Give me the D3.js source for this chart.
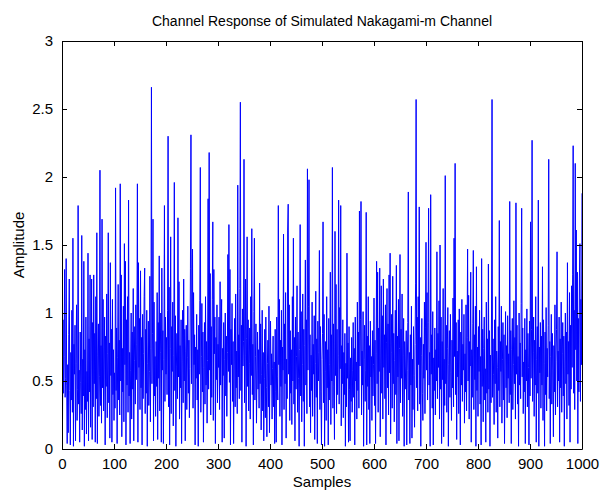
<!DOCTYPE html>
<html>
<head>
<meta charset="utf-8">
<script src="https://cdn.jsdelivr.net/npm/d3@7"></script>
<style>
  html, body { margin: 0; padding: 0; background: #fff; }
  svg { display: block; font-family: "Liberation Sans", Arial, sans-serif; }
</style>
</head>
<body>
<svg id="chart" width="602" height="491"></svg>
<script>
// Simulated Nakagami-m channel amplitude, one value per sample (1..1000)
const amplitude = [
0.22,0.95,0.41,0.68,1.32,0.38,0.52,1.40,0.47,0.04,0.62,0.12,0.84,1.25,0.43,0.03,0.71,0.36,1.02,0.27,
1.55,0.02,0.77,0.55,0.91,0.06,0.63,1.06,0.21,0.44,1.79,0.33,0.58,0.05,0.86,0.49,0.26,1.57,0.14,0.66,
0.39,1.38,0.02,0.73,0.29,0.97,0.11,0.57,0.35,1.44,0.06,0.81,0.42,1.28,0.16,0.64,1.25,0.07,0.93,0.31,
1.28,0.48,0.85,0.05,1.12,0.37,1.59,0.04,0.69,0.92,0.24,0.53,2.05,0.32,0.76,0.19,1.69,0.45,1.10,0.28,
0.61,0.97,0.03,0.83,0.46,1.14,0.23,0.70,1.59,0.34,0.78,0.08,1.37,0.54,0.88,0.05,1.10,0.40,0.73,0.21,
0.56,0.30,1.92,0.43,0.89,0.04,0.67,1.21,0.36,0.80,0.25,1.95,0.50,1.28,0.09,0.74,0.42,1.05,0.20,1.51,
0.62,1.38,0.03,0.95,0.47,1.12,0.27,1.83,0.39,0.71,0.04,0.58,1.00,0.22,0.86,0.44,1.18,0.06,0.65,0.90,
0.33,1.06,0.51,0.77,1.95,0.05,1.37,0.60,0.96,0.29,1.31,0.45,0.82,0.03,0.99,0.37,0.70,1.12,1.33,0.26,
0.88,0.41,1.02,0.02,0.63,0.94,0.32,0.57,1.27,0.20,0.74,2.66,0.48,0.85,1.69,0.06,1.08,0.39,0.68,0.24,
0.79,0.46,1.15,0.07,0.93,0.52,1.42,0.28,0.71,1.00,0.05,1.33,0.58,0.87,0.04,0.66,1.79,0.35,0.97,0.55,
0.82,0.40,1.02,2.30,0.31,1.19,0.03,0.74,1.56,0.26,0.90,0.57,1.08,0.17,0.69,1.96,0.43,0.98,0.02,0.61,
0.85,0.37,1.70,0.53,1.23,0.22,0.76,0.45,0.95,0.04,0.64,1.02,0.34,1.25,0.50,0.88,0.06,0.72,0.91,0.29,
0.67,1.05,0.41,0.80,0.23,0.59,1.33,2.31,0.48,0.96,1.47,0.30,1.15,0.62,0.84,0.03,0.75,0.52,0.99,0.36,
0.73,0.02,0.91,0.55,1.09,2.07,0.27,0.68,1.07,0.42,0.86,0.05,0.60,0.93,0.33,1.12,0.47,0.79,0.19,0.65,
1.84,0.44,2.18,0.58,1.29,0.25,0.90,0.38,1.10,1.67,0.21,1.32,0.70,0.97,0.04,0.82,0.51,1.06,0.34,0.77,
0.60,0.97,0.29,1.23,0.47,0.86,1.10,0.05,0.74,0.54,0.93,0.08,0.66,1.00,0.39,0.83,0.24,0.71,1.43,0.57,
1.65,0.49,1.32,0.03,0.88,0.62,1.07,0.35,0.79,0.04,0.58,0.96,0.31,1.14,0.45,0.72,0.26,1.94,0.53,0.84,
0.37,1.18,2.55,0.43,0.91,0.05,1.03,0.61,0.79,2.13,0.34,0.69,1.25,0.02,0.81,1.56,0.46,0.95,0.28,0.63,
0.89,0.22,1.12,0.54,1.62,0.40,0.77,0.03,1.01,1.55,0.36,0.68,0.92,0.19,0.58,0.86,0.44,0.73,0.30,1.22,
0.48,0.92,0.14,0.55,1.02,0.28,0.71,0.06,0.52,0.88,0.23,0.97,0.45,0.09,0.63,0.80,0.31,1.05,0.12,0.66,
0.94,0.47,0.70,0.22,0.59,0.83,0.31,0.64,0.04,0.88,0.42,0.05,0.97,0.53,0.36,1.79,0.62,1.10,0.24,0.80,
0.46,1.02,0.03,0.75,0.58,1.58,0.29,0.92,0.48,1.15,0.08,0.66,0.37,1.61,1.80,0.55,1.06,0.21,0.87,0.41,
0.73,0.18,1.12,0.50,1.55,0.33,0.82,0.06,0.97,0.44,0.68,1.20,0.27,0.86,0.52,0.02,0.73,1.65,0.39,1.01,
0.20,0.62,1.14,0.35,0.88,0.02,0.76,1.39,0.47,0.95,0.26,2.06,0.58,1.05,1.98,0.31,0.84,0.12,0.69,0.43,
1.08,0.24,0.77,0.55,0.98,0.07,0.63,1.16,0.38,0.81,0.04,0.94,0.50,0.71,1.46,0.29,0.90,0.42,0.03,0.66,
0.85,1.67,0.34,0.99,0.02,0.57,0.79,0.21,1.12,0.45,0.73,0.03,0.96,0.36,0.62,1.30,0.18,0.84,0.50,2.07,
0.30,0.92,0.46,0.07,1.60,0.54,1.21,0.26,0.88,0.40,0.69,1.83,0.33,1.04,0.59,1.79,0.17,0.76,0.48,0.95,
0.23,0.71,0.40,0.85,0.02,0.63,0.31,1.44,0.52,0.78,0.05,0.90,0.44,0.06,0.67,0.35,0.82,0.27,0.58,0.93,
0.38,0.74,0.03,0.97,0.50,0.64,0.22,1.08,0.43,0.86,0.30,1.75,0.61,0.95,1.82,0.25,0.72,0.47,1.01,0.02,
0.66,0.91,0.35,0.58,1.74,0.03,0.83,0.46,1.12,0.29,0.76,0.04,0.94,0.53,0.68,0.21,0.87,0.39,0.62,1.11,
0.32,0.80,0.04,0.70,1.38,0.48,1.30,0.27,0.89,0.57,1.33,0.09,0.75,1.20,0.41,0.98,0.22,1.25,0.60,0.84,
0.37,1.06,0.03,0.78,1.18,0.45,0.92,0.25,1.28,0.56,1.44,0.11,0.71,0.99,0.30,1.27,0.48,0.85,0.20,0.65,
1.02,0.40,1.35,0.04,0.83,0.53,1.10,0.06,0.74,1.43,0.34,0.88,0.52,1.14,0.24,0.69,0.96,0.02,0.79,0.44,
0.61,0.87,0.03,0.58,0.93,1.89,0.36,0.71,0.04,0.84,0.47,1.05,0.08,0.66,0.29,0.90,0.54,0.16,0.77,1.22,
2.57,0.45,0.97,0.28,1.12,0.62,1.78,0.33,0.82,0.02,0.69,0.96,0.41,0.21,0.77,0.52,1.08,0.26,0.89,1.52,
0.58,1.15,0.36,0.93,1.77,0.47,0.71,0.02,1.87,0.55,0.84,0.30,1.01,0.03,0.67,0.43,0.89,0.25,0.73,0.50,
1.45,0.37,0.85,0.60,1.09,0.22,1.50,0.44,0.97,0.04,0.79,0.51,1.18,0.09,0.66,0.32,2.01,0.48,0.91,0.27,
0.74,1.04,0.02,0.62,0.87,0.38,0.99,0.56,0.21,0.80,0.45,1.11,0.31,1.55,0.68,2.10,0.40,0.93,0.07,0.72,
0.53,0.95,0.26,1.03,0.64,0.03,0.86,0.47,1.10,0.35,0.77,0.58,0.99,0.19,0.70,0.42,1.06,0.28,0.82,1.47,
0.50,1.13,0.22,0.79,0.61,1.30,0.05,0.73,0.38,0.92,1.46,0.29,0.84,0.51,1.05,0.02,1.34,0.43,0.75,0.24,
0.90,0.57,1.02,0.33,0.68,0.03,1.40,0.46,0.88,0.20,0.74,0.97,0.36,0.59,0.05,1.08,0.41,0.81,0.27,1.36,
0.44,0.87,0.02,0.69,0.34,1.00,2.57,0.38,0.81,0.55,0.18,0.95,0.48,1.12,0.27,0.72,0.60,0.08,0.90,0.43,
1.68,0.31,0.79,0.57,1.05,0.19,0.66,0.93,0.36,0.84,0.04,0.61,1.01,0.45,0.76,0.23,0.98,0.52,0.70,0.34,
1.82,0.40,0.87,0.04,0.73,0.96,0.29,0.62,1.09,0.48,0.82,0.22,1.81,0.55,0.91,0.33,0.68,0.02,1.00,0.47,
0.78,0.37,1.07,1.77,0.53,0.89,0.26,0.64,0.42,0.96,0.04,0.73,0.50,1.03,0.31,0.85,0.60,0.03,0.94,0.39,
1.67,0.52,0.88,2.27,0.35,0.71,0.97,0.24,0.80,0.47,1.12,0.05,0.66,0.90,0.41,1.83,0.02,0.75,0.56,0.93,
0.30,0.83,0.47,1.34,0.21,0.95,0.63,0.02,0.86,0.40,1.04,0.28,0.74,0.53,0.91,2.13,0.37,0.79,0.04,0.68,
0.99,0.33,0.85,0.58,0.09,0.76,0.42,1.06,0.25,0.64,0.88,1.45,0.31,0.72,0.50,0.97,0.05,0.81,0.45,1.08,
0.27,0.70,0.93,0.39,0.83,0.02,0.61,1.00,0.48,0.86,0.22,1.37,0.55,0.79,0.32,1.15,0.05,0.91,0.44,1.20,
0.60,1.28,2.23,0.41,1.02,0.29,2.10,0.73,1.61,0.50,1.30,0.04,0.96,0.42,1.25,1.51,0.35,1.10,0.62,1.88
];

const xTicks = [0, 100, 200, 300, 400, 500, 600, 700, 800, 900, 1000];
const yTicks = [0, 0.5, 1, 1.5, 2, 2.5, 3];
const titleText = "Channel Response of Simulated Nakagami-m Channel";
const xLabel = "Samples";
const yLabel = "Amplitude";

const svg = d3.select("#chart");
const box = { left: 62, right: 582, top: 41, bottom: 449 };
const tickLen = 5;
const fontSize = 15;

const x = d3.scaleLinear().domain([0, 1000]).range([box.left, box.right]);
const y = d3.scaleLinear().domain([0, 3]).range([box.bottom, box.top]);

// Signal trace
const line = d3.line()
  .x((d, i) => x(i + 1))
  .y(d => y(d));

svg.append("path")
  .datum(amplitude)
  .attr("fill", "none")
  .attr("stroke", "#0000ff")
  .attr("stroke-width", 1)
  .attr("stroke-linejoin", "miter")
  .attr("d", line);

// Axes with inward ticks on all four sides
const fmt = d => String(d);
const axB = d3.axisBottom(x).tickValues(xTicks).tickSizeInner(-tickLen).tickSizeOuter(0).tickPadding(9).tickFormat(fmt);
const axT = d3.axisTop(x).tickValues(xTicks).tickSizeInner(-tickLen).tickSizeOuter(0).tickFormat("");
const axL = d3.axisLeft(y).tickValues(yTicks).tickSizeInner(-tickLen).tickSizeOuter(0).tickPadding(9).tickFormat(fmt);
const axR = d3.axisRight(y).tickValues(yTicks).tickSizeInner(-tickLen).tickSizeOuter(0).tickFormat("");

function styleAxis(g) {
  g.select(".domain").attr("stroke", "#000").attr("stroke-width", 1);
  g.selectAll(".tick line").attr("stroke", "#000").attr("stroke-width", 1);
  g.selectAll(".tick text")
    .attr("fill", "#000")
    .style("font-family", '"Liberation Sans", Arial, sans-serif')
    .style("font-size", fontSize + "px");
}

svg.append("g").attr("transform", `translate(0,${box.bottom})`).call(axB).call(styleAxis);
svg.append("g").attr("transform", `translate(0,${box.top})`).call(axT).call(styleAxis);
svg.append("g").attr("transform", `translate(${box.left},0)`).call(axL).call(styleAxis);
svg.append("g").attr("transform", `translate(${box.right},0)`).call(axR).call(styleAxis);

// Title and axis labels
svg.append("text")
  .attr("x", (box.left + box.right) / 2)
  .attr("y", 26)
  .attr("text-anchor", "middle")
  .style("font-size", "14px")
  .attr("fill", "#000")
  .text(titleText);

svg.append("text")
  .attr("x", (box.left + box.right) / 2)
  .attr("y", 487)
  .attr("text-anchor", "middle")
  .style("font-size", fontSize + "px")
  .attr("fill", "#000")
  .text(xLabel);

svg.append("text")
  .attr("transform", `translate(24,${(box.top + box.bottom) / 2}) rotate(-90)`)
  .attr("text-anchor", "middle")
  .style("font-size", fontSize + "px")
  .attr("fill", "#000")
  .text(yLabel);
</script>
</body>
</html>
